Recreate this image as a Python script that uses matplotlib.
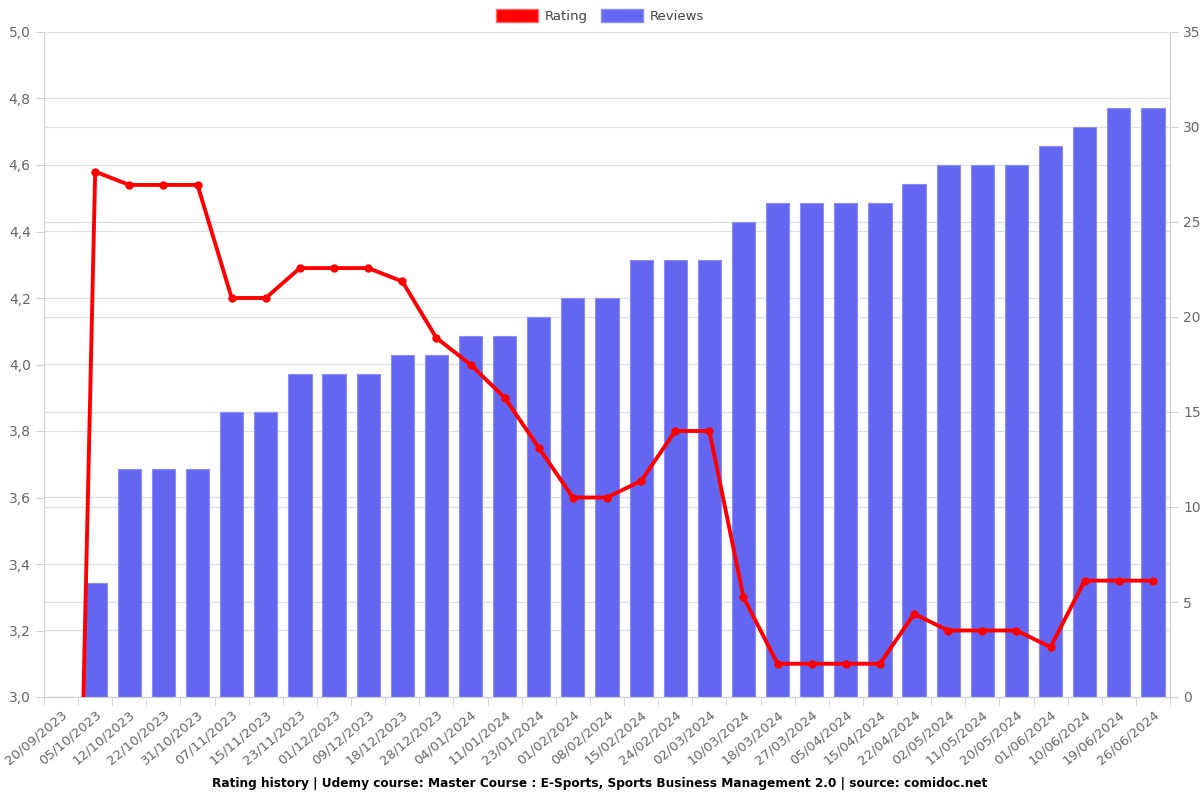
import matplotlib
matplotlib.use("Agg")
import matplotlib.pyplot as plt
import numpy as np
from matplotlib.patches import Patch
from matplotlib.ticker import FuncFormatter

dates = ["20/09/2023", "05/10/2023", "12/10/2023", "22/10/2023", "31/10/2023", "07/11/2023",
         "15/11/2023", "23/11/2023", "01/12/2023", "09/12/2023", "18/12/2023", "28/12/2023",
         "04/01/2024", "11/01/2024", "23/01/2024", "01/02/2024", "08/02/2024", "15/02/2024",
         "24/02/2024", "02/03/2024", "10/03/2024", "18/03/2024", "27/03/2024", "05/04/2024",
         "15/04/2024", "22/04/2024", "02/05/2024", "11/05/2024", "20/05/2024", "01/06/2024",
         "10/06/2024", "19/06/2024", "26/06/2024"]
rating = [0, 4.58, 4.54, 4.54, 4.54, 4.2, 4.2, 4.29, 4.29, 4.29, 4.25, 4.08,
          4.0, 3.9, 3.75, 3.6, 3.6, 3.65, 3.8, 3.8, 3.3, 3.1, 3.1, 3.1,
          3.1, 3.25, 3.2, 3.2, 3.2, 3.15, 3.35, 3.35, 3.35]
reviews = [0, 6, 12, 12, 12, 15, 15, 17, 17, 17, 18, 18,
           19, 19, 20, 21, 21, 23, 23, 23, 25, 26, 26, 26,
           26, 27, 28, 28, 28, 29, 30, 31, 31]
title = "Rating history | Udemy course: Master Course : E-Sports, Sports Business Management 2.0 | source: comidoc.net"

red = "#ff0000"
blue = "#6366f1"
grid_c = "#e0e0e0"
txt_c = "#666666"

fig = plt.figure(figsize=(12, 8), dpi=100)
ax = fig.add_axes([44/1200, 1-697/800, (1170-44)/1200, (697-32)/800])
ax2 = ax.twinx()

n = len(dates)
x = np.arange(n)

ax2.bar(x, reviews, width=0.68, color=blue, edgecolor="#8b8df5", linewidth=0.8, zorder=2)
ax2.set_ylim(0, 35)
ax2.set_yticks(range(0, 36, 5))

ax.plot(x, rating, color=red, linewidth=2.8, marker="o", markersize=5, zorder=5,
        solid_joinstyle="round")
ax.set_ylim(3.0, 5.0)
ax.set_yticks(np.arange(3.0, 5.01, 0.2))
ax.yaxis.set_major_formatter(FuncFormatter(lambda v, p: f"{v:.1f}".replace(".", ",")))
ax.set_xlim(-0.5, n - 0.5)

ax.set_zorder(ax2.get_zorder() + 1)
ax.patch.set_visible(False)

# grids (both axes' horizontal lines, vertical lines at category boundaries)
ax2.set_axisbelow(True)
ax2.yaxis.grid(True, color=grid_c, linewidth=0.9, zorder=0)
ax2.set_xticks(np.arange(-0.5, n, 1.0), minor=True)
ax2.xaxis.grid(True, which="minor", color=grid_c, linewidth=0.9, zorder=0)
for v in np.arange(3.0, 5.01, 0.2):
    ax2.axhline((v - 3.0) / 2.0 * 35, color=grid_c, linewidth=0.9, zorder=0)

ax.set_xticks(x)
ax.set_xticklabels(dates, rotation=40, ha="right", va="top", rotation_mode="anchor",
                   fontsize=9.5, color=txt_c)
ax.tick_params(axis="x", length=0, pad=8)
ax.set_xticks(np.arange(-0.5, n, 1.0), minor=True)
ax.tick_params(axis="x", which="minor", length=6, color="#d0d0d0")
ax2.tick_params(axis="x", which="both", length=0, labelbottom=False)
ax.tick_params(axis="y", labelsize=10, labelcolor=txt_c, color="#d0d0d0", length=6)
ax2.tick_params(axis="y", labelsize=10, labelcolor=txt_c, color="#d0d0d0", length=6)

for a in (ax, ax2):
    for s in a.spines.values():
        s.set_color("#d0d0d0")
    a.spines["top"].set_visible(False)

handles = [Patch(facecolor=red, edgecolor="#ff6666"), Patch(facecolor=blue, edgecolor="#8b8df5")]
fig.legend(handles, ["Rating", "Reviews"], loc="center", bbox_to_anchor=(0.5, 1 - 16/800),
           ncol=2, frameon=False, fontsize=9.5, handlelength=3.2, handleheight=1.2,
           columnspacing=1.0, handletextpad=0.5, labelcolor="#444444")

fig.text(0.5, 1-783/800, title, ha="center", va="center", fontsize=8.7, fontweight="bold")

fig.savefig("out.png", dpi=100)
